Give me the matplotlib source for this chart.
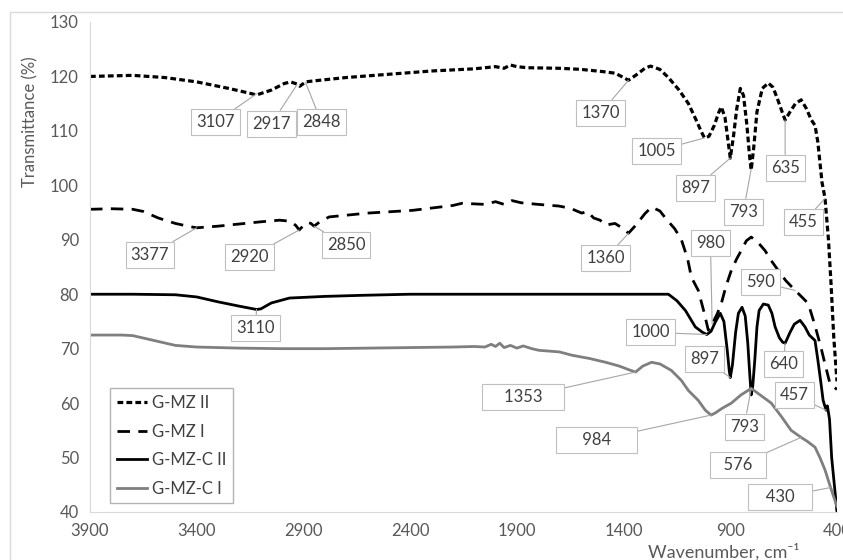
import matplotlib
matplotlib.use("Agg")
import matplotlib.pyplot as plt
from matplotlib.patches import Rectangle

plt.rcParams['font.family'] = ['Lato', 'DejaVu Sans']

# G-MZ II (top, short dashes)
wn_mz2 = [3900, 3700, 3550, 3400, 3250, 3150, 3120, 3050, 2990, 2960, 2930, 2917, 2890, 2848,
          2700, 2500, 2300, 2100, 2000, 1960, 1930, 1900, 1850, 1700, 1600, 1500, 1440, 1400,
          1377, 1340, 1300, 1274, 1230, 1190, 1140, 1096, 1060, 1035, 1021, 1000, 975, 955, 942,
          925, 910, 900, 885, 870, 853, 838, 822, 810, 802, 790, 775, 750, 722, 700, 680, 660,
          643, 620, 595, 568, 545, 520, 503, 490, 470, 456, 440, 428, 415, 400]
t_mz2 = [120.0, 120.2, 119.8, 119.0, 117.8, 116.9, 116.6, 117.5, 118.7, 119.0, 118.6, 118.2, 119.0, 119.2,
         119.8, 120.4, 121.0, 121.4, 121.8, 121.5, 122.1, 121.8, 121.6, 121.5, 121.3, 120.9, 120.6, 119.8,
         119.3, 120.3, 121.5, 121.9, 121.3, 119.8, 117.5, 115.0, 112.0, 109.8, 108.7, 109.0, 111.0, 113.3, 114.4,
         112.5, 108.0, 105.0, 109.0, 114.0, 117.8, 116.5, 111.0, 105.5, 102.8, 107.0, 113.5, 117.8, 118.8, 118.0, 116.0, 113.8,
         112.0, 113.5, 115.0, 115.7, 114.2, 112.0, 111.0, 108.0, 100.5, 97.6, 90.0, 82.0, 72.0, 64.0]

# G-MZ I (long dashes)
wn_mz1 = [3900, 3800, 3700, 3650, 3580, 3500, 3430, 3400, 3300, 3200, 3100, 3012, 2960, 2935,
          2920, 2900, 2880, 2865, 2850, 2820, 2779, 2600, 2390, 2200, 2157, 2050, 2000, 1960,
          1923, 1880, 1800, 1704, 1650, 1596, 1570, 1540, 1510, 1484, 1440, 1400, 1377, 1340,
          1300, 1269, 1230, 1204, 1160, 1129, 1100, 1082, 1050, 1025, 1003, 985, 960, 942, 920,
          895, 870, 849, 825, 802, 770, 737, 705, 676, 640, 596, 560, 535, 505, 475, 455, 433, 400]
t_mz1 = [95.6, 95.7, 95.6, 95.2, 94.0, 93.0, 92.4, 92.2, 92.5, 92.9, 93.3, 93.6, 93.4, 92.6,
         91.8, 92.6, 93.2, 93.0, 92.5, 93.4, 94.2, 94.9, 95.4, 96.3, 96.7, 96.5, 97.0, 96.5,
         97.2, 96.8, 96.5, 96.2, 95.8, 94.9, 95.2, 94.0, 93.6, 92.7, 93.0, 92.0, 91.2, 92.8,
         94.8, 96.0, 95.3, 94.0, 92.0, 90.0, 86.5, 83.1, 80.7, 77.0, 73.4, 74.5, 76.5, 78.3, 81.5,
         84.4, 86.5, 88.0, 89.8, 90.5, 89.5, 88.0, 86.0, 84.4, 82.5, 80.7, 79.3, 78.3, 74.5, 70.2, 67.0, 63.6, 62.5]

# G-MZ-C II (black solid)
wn_c2 = [3900, 3700, 3500, 3400, 3300, 3200, 3120, 3100, 3050, 2965, 2800, 2624, 2400, 2000,
         1600, 1190, 1150, 1110, 1064, 1030, 1010, 990, 970, 947, 930, 915, 905, 900, 890, 875,
         862, 845, 830, 818, 810, 802, 795, 785, 775, 765, 745, 722, 705, 690, 670, 655, 643,
         620, 600, 573, 550, 530, 503, 490, 475, 465, 451, 445, 435, 425, 410, 400]
t_c2 = [80.0, 80.0, 79.9, 79.5, 78.6, 77.8, 77.2, 77.3, 78.4, 79.3, 79.6, 79.8, 80.0, 80.0,
        80.0, 80.0, 78.8, 77.0, 74.0, 73.0, 72.6, 73.2, 74.9, 76.5, 75.0, 70.0, 66.0, 64.7, 67.0, 73.0,
        76.5, 77.6, 76.0, 71.0, 66.0, 61.5, 63.0, 68.0, 74.0, 77.0, 78.2, 78.0, 76.5, 74.0, 72.0, 71.2, 71.0,
        73.0, 74.5, 75.2, 74.0, 72.5, 71.5, 68.0, 63.6, 60.5, 58.7, 59.5, 57.0, 50.0, 44.0, 40.0]

# G-MZ-C I (grey solid)
wn_c1 = [3900, 3750, 3700, 3600, 3500, 3400, 3200, 3000, 2800, 2600, 2400, 2200, 2100, 2050,
         2020, 2000, 1980, 1960, 1930, 1900, 1870, 1830, 1797, 1700, 1643, 1560, 1484, 1420,
         1380, 1344, 1310, 1269, 1230, 1176, 1130, 1096, 1050, 1017, 990, 970, 940, 895, 850,
         802, 760, 708, 660, 615, 568, 540, 503, 480, 456, 430, 400]
t_c1 = [72.5, 72.5, 72.4, 71.5, 70.6, 70.3, 70.1, 70.0, 70.0, 70.1, 70.2, 70.3, 70.4, 70.3,
        70.8, 70.4, 71.0, 70.2, 70.6, 70.1, 70.5, 70.0, 69.7, 69.4, 68.8, 68.2, 67.5, 66.8,
        66.2, 65.7, 66.8, 67.5, 67.2, 66.0, 64.2, 62.3, 60.5, 58.7, 57.8, 58.2, 59.0, 60.0, 61.5,
        62.7, 61.5, 60.0, 57.5, 55.0, 53.7, 53.0, 51.9, 50.0, 47.7, 44.5, 41.0]

x_ticks = [3900, 3400, 2900, 2400, 1900, 1400, 900, 400]
y_ticks = [40, 50, 60, 70, 80, 90, 100, 110, 120, 130]

# label text, point on curve, label position, extra box padding (chars)
labels = [
    ("3107", (3120, 116.8), (3311, 111.6), 0),
    ("2917", (2930, 118.5), (3050, 111.3), 0),
    ("2848", (2890, 118.9), (2816, 111.6), 0),
    ("1370", (1377, 119.3), (1507, 113.3), 0),
    ("1005", (1021, 108.7), (1246, 106.3), 0),
    ("897", (900, 105.0), (1064, 99.5), 0),
    ("793", (802, 103.0), (839, 95.1), 0),
    ("635", (643, 112.0), (643, 103.2), 0),
    ("455", (456, 97.6), (559, 93.2), 0),
    ("3377", (3400, 92.2), (3620, 87.2), 0),
    ("2920", (2920, 91.8), (3152, 86.8), 0),
    ("2850", (2850, 92.5), (2700, 89.0), 0),
    ("3110", (3120, 77.2), (3124, 73.75), 0),
    ("1360", (1377, 91.2), (1484, 86.6), 0),
    ("980", (985, 74.5), (993, 89.4), 0),
    ("590", (596, 80.7), (760, 82.2), 0),
    ("1000", (1010, 72.6), (1274, 73.0), 0),
    ("897", (900, 64.7), (1021, 68.05), 0),
    ("640", (643, 71.0), (652, 67.1), 0),
    ("457", (451, 58.7), (601, 61.4), 0),
    ("1353", (1344, 65.7), (1872, 61.1), 4),
    ("984", (990, 57.8), (1526, 53.2), 5),
    ("793", (802, 62.7), (835, 55.7), 0),
    ("576", (568, 53.7), (863, 48.6), 2),
    ("430", (430, 44.5), (666, 42.7), 3),
]

fig = plt.figure(figsize=(8.43, 5.6), dpi=100)
ax = fig.add_axes([90 / 843, 48 / 560, 747 / 843, 490 / 560])

# chart border like the Excel chart area
fig.patches.append(Rectangle((10 / 843, -0.1), 1.2, (548 / 560) + 0.1, transform=fig.transFigure,
                             fill=False, edgecolor='#d9d9d9', linewidth=1))

ax.plot(wn_mz2, t_mz2, color='black', lw=2.3, linestyle=(0, (1.8, 1.0)), label='G-MZ II')
ax.plot(wn_mz1, t_mz1, color='black', lw=2.0, linestyle=(0, (4.5, 3.0)), label='G-MZ I')
ax.plot(wn_c2, t_c2, color='black', lw=2.0, label='G-MZ-C II')
ax.plot(wn_c1, t_c1, color='#7f7f7f', lw=2.0, label='G-MZ-C I')

for txt, pt, pos, pad in labels:
    shown = ' ' * pad + txt + ' ' * pad
    ax.annotate(shown, xy=pt, xytext=pos, ha='center', va='center', fontsize=12, color='#404040',
                bbox=dict(boxstyle='square,pad=0.3', fc='white', ec='#bfbfbf', lw=0.8),
                arrowprops=dict(arrowstyle='-', color='#a6a6a6', lw=0.8, shrinkA=0, shrinkB=0))

ax.set_xlim(3900, 400)
ax.set_ylim(40, 130)
ax.set_xticks(x_ticks)
ax.set_yticks(y_ticks)
ax.tick_params(length=0, labelsize=12, labelcolor='#595959', pad=8)
for s in ['top', 'right']:
    ax.spines[s].set_visible(False)
for s in ['left', 'bottom']:
    ax.spines[s].set_color('#d9d9d9')

leg = ax.legend(loc='lower left', bbox_to_anchor=(0.027, 0.018), fontsize=12, frameon=True,
                fancybox=False, edgecolor='#a0a0a0', handlelength=1.8, handletextpad=0.3,
                labelspacing=0.75, borderpad=0.4, borderaxespad=0)
for t in leg.get_texts():
    t.set_color('#404040')

fig.text(30 / 843, 1 - 122 / 560, 'Transmittance (%)', rotation=90, ha='center', va='center',
         fontsize=12, color='#595959')
fig.text(648 / 843, 1 - 552 / 560, 'Wavenumber, cm⁻¹', ha='left', va='center',
         fontsize=13, color='#595959')

fig.savefig('out.png', dpi=100)
